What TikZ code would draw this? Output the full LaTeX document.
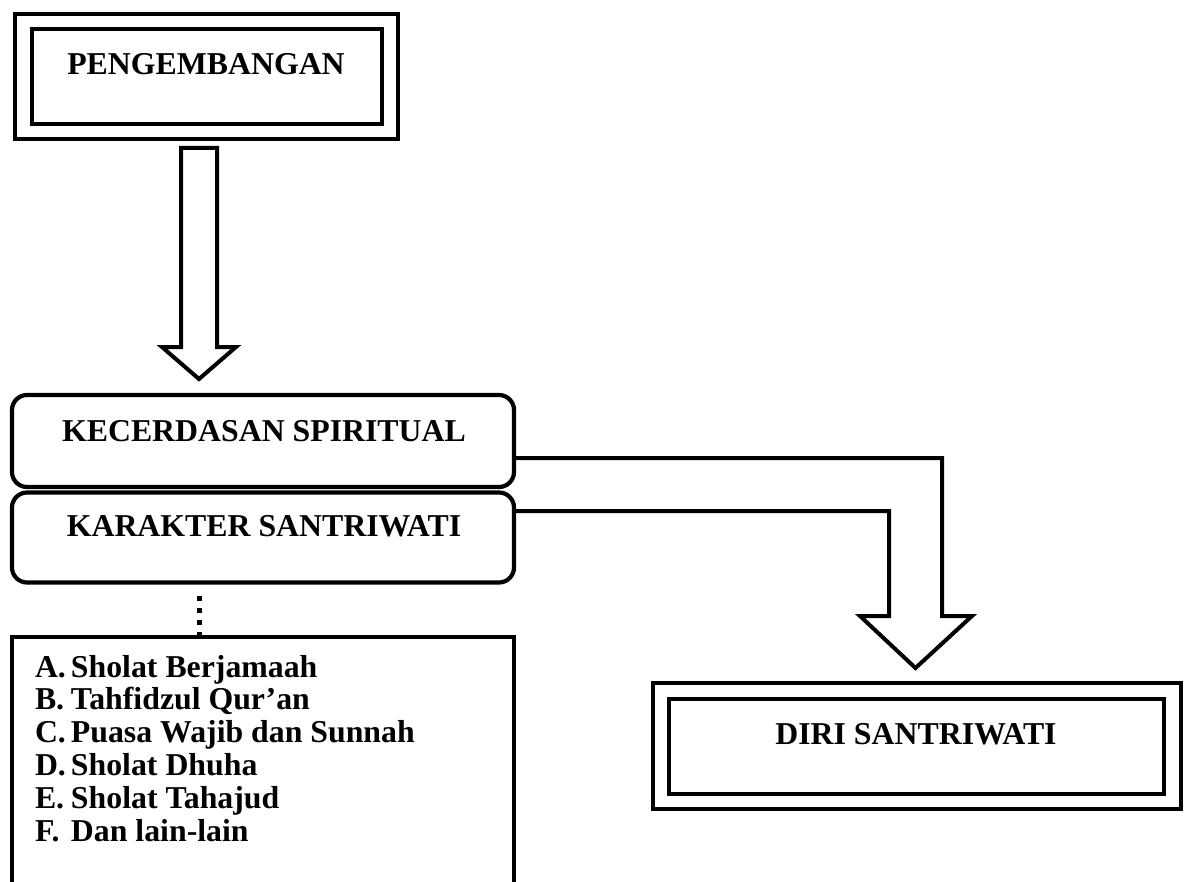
\documentclass[tikz,border=0pt]{standalone}
\usepackage{fontspec}
\setmainfont{Liberation Serif}
\begin{document}
\begin{tikzpicture}[x=1pt,y=-1pt,
  every node/.style={inner sep=0pt,outer sep=0pt},
  boxline/.style={draw=black,line width=4.2pt,line join=miter},
  rbox/.style={draw=black,line width=4.2pt,rounded corners=15pt},
  blockarrow/.style={draw=black,line width=4pt,line join=miter,fill=white},
  dotline/.style={draw=black,line width=5pt,dash pattern=on 5pt off 7pt},
  label/.style={font=\fontsize{31.8}{31}\selectfont\bfseries,anchor=base},
  item/.style={font=\fontsize{31.8}{31}\selectfont\bfseries,anchor=base west}]
\useasboundingbox[fill=white] (0,0) rectangle (1190,882);

% PENGEMBANGAN double box
\node[boxline,minimum width=383pt,minimum height=125pt] (pengout) at (206.5,76.5) {};
\node[boxline,minimum width=350pt,minimum height=95pt] (peng) at (207,76.5) {};
\node[label] (pengtxt) at (206,75) {PENGEMBANGAN};

% vertical block arrow
\draw[blockarrow] (181,148) -- (217,148) -- (217,347) -- (236,347) -- (199,379)
  -- (162,347) -- (181,347) -- cycle;

% bent block arrow
\draw[blockarrow,fill=none] (514,458) -- (942,458) -- (942,616) -- (972,616)
  -- (915.5,668) -- (860,616) -- (889,616) -- (889,511) -- (514,511);

% rounded boxes
\node[rbox,fill=white,minimum width=502pt,minimum height=92pt] (ksp) at (263,441) {};
\node[rbox,fill=white,minimum width=502pt,minimum height=90pt] (kar) at (263,537.5) {};
\node[label] (ksptxt) at (264,441) {KECERDASAN SPIRITUAL};
\node[label] (kartxt) at (264,536) {KARAKTER SANTRIWATI};

% list box (cut by the page bottom)
\node[boxline,minimum width=502pt,minimum height=263pt] (list) at (263,768.5) {};

% dotted connector
\coordinate (dtop) at (199,583);
\coordinate (dbot) at (199,637);
\draw[dotline,shorten <=13pt] (dtop) -- (dbot);

% list items
\node[item] (li1) at (35,677) {\makebox[36pt][l]{A.}Sholat Berjamaah};
\node[item] (li2) at (35,709.8) {\makebox[36pt][l]{B.}Tahfidzul Qur’an};
\node[item] (li3) at (35,742.6) {\makebox[36pt][l]{C.}Puasa Wajib dan Sunnah};
\node[item] (li4) at (35,775.4) {\makebox[36pt][l]{D.}Sholat Dhuha};
\node[item] (li5) at (35,808.2) {\makebox[36pt][l]{E.}Sholat Tahajud};
\node[item] (li6) at (35,841) {\makebox[36pt][l]{F.}Dan lain-lain};

% DIRI SANTRIWATI double box
\node[boxline,minimum width=528pt,minimum height=126pt] (diriout) at (917,746) {};
\node[boxline,minimum width=495pt,minimum height=95pt] (diri) at (916.5,746.5) {};
\node[label] (diritxt) at (916,744) {DIRI SANTRIWATI};
\end{tikzpicture}
\end{document}
